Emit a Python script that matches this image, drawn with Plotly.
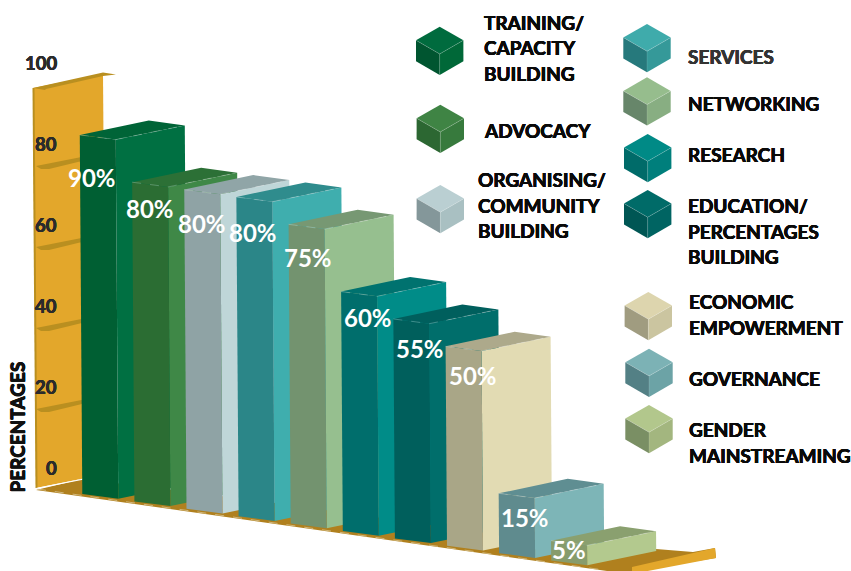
import plotly.graph_objects as go

# ---------- data ----------
categories = ["TRAINING/ CAPACITY BUILDING", "ADVOCACY", "ORGANISING/ COMMUNITY BUILDING",
              "SERVICES", "NETWORKING", "RESEARCH", "EDUCATION/ PERCENTAGES BUILDING",
              "ECONOMIC EMPOWERMENT", "GOVERNANCE", "GENDER MAINSTREAMING"]
values = [90, 80, 80, 80, 75, 60, 55, 50, 15, 5]
value_labels = ["90%", "80%", "80%", "80%", "75%", "60%", "55%", "50%", "15%", "5%"]
axis_ticks = [0, 20, 40, 60, 80, 100]
axis_title = "PERCENTAGES"

# ---------- styles ----------
left_colors = ["#005F33", "#2B6D33", "#8FA3A5", "#2B8688", "#73936F", "#006E6C", "#005F5C", "#A9A687", "#5F8B8E", "#879C6C"]
right_colors = ["#007042", "#3F8847", "#BFD6D8", "#3FAEAE", "#96BF8F", "#008C88", "#006E6B", "#E2DBB3", "#7DB5B7", "#B3C98E"]
top_colors = ["#006437", "#2C7036", "#90A5A7", "#2F8C8D", "#779873", "#00726F", "#005F5D", "#ADA98B", "#5F8E92", "#8AA06F"]
cube_top = ["#006B3E", "#3F8444", "#BACFD2", "#3FABAB", "#96BD8D", "#008A86", "#006B68", "#DDD5AE", "#7CB2B5", "#B2C78C"]
cube_left = ["#005530", "#2C6732", "#84979A", "#26797C", "#67866A", "#006B69", "#005654", "#A09C80", "#538085", "#7A8F64"]
cube_right = ["#006838", "#377A3D", "#A9C0C2", "#359999", "#88AE82", "#007F7C", "#006462", "#CBC5A0", "#6CA3A6", "#A3B67F"]
GOLD, GOLD_DARK, GOLD_EDGE = "#E3A72B", "#B0801E", "#B98F20"
FONT = "Lato"
HEAVY = "0.35px 0 0 {c}, -0.35px 0 0 {c}, 0 0.3px 0 {c}, 0 -0.3px 0 {c}"

# ---------- layout geometry (pixels of the 851x571 page) ----------
W, H = 851, 571
X0, Y0, XSTEP, YSTEP, UNIT, TAPER = 82.3, 494.0, 52.1, 7.4, 3.99, 0.028
FACE_DX = [0, 36, 105, 69]
FACE_DY = [0, 4.7, -9.5, -14.5]
WALL_UNIT = 4.05
TEXT_PAD = 2.5
label_px = [(92, 177), (150, 208), (202, 223), (253, 232), (308, 257),
            (368, 317), (420, 348), (473, 375), (525, 517), (569, 549)]
cube_px = [(439.7, 26.7), (440.3, 104.7), (440.3, 185), (647, 24), (647, 77.3),
           (647.7, 134), (647.7, 190), (648.3, 292), (649, 348.7), (649, 405)]
legend_lines = [
    [("TRAINING/", 484, 22), ("CAPACITY", 484, 47), ("BUILDING", 484, 73)],
    [("ADVOCACY", 484, 130)],
    [("ORGANISING/", 478, 179), ("COMMUNITY", 478, 205), ("BUILDING", 478, 230)],
    [("SERVICES", 688, 56)],
    [("NETWORKING", 688, 103)],
    [("RESEARCH", 688, 154)],
    [("EDUCATION/", 688, 205), ("PERCENTAGES", 688, 231), ("BUILDING", 688, 256)],
    [("ECONOMIC", 689, 301), ("EMPOWERMENT", 689, 327)],
    [("GOVERNANCE", 689, 378)],
    [("GENDER", 689, 429), ("MAINSTREAMING", 689, 455)],
]


def dx(px):
    return (px - X0) / XSTEP


def dy(py):
    return (Y0 - py) / UNIT


fig = go.Figure()


def poly(points, color):
    fig.add_trace(go.Scatter(x=[dx(p[0]) for p in points], y=[dy(p[1]) for p in points],
                             mode="lines", fill="toself", fillcolor=color,
                             line=dict(width=0, color=color), hoverinfo="skip", showlegend=False))


def path(points, color, width=0.7, dash="solid"):
    fig.add_trace(go.Scatter(x=[dx(p[0]) for p in points], y=[dy(p[1]) for p in points],
                             mode="lines", line=dict(width=width, color=color, dash=dash),
                             hoverinfo="skip", showlegend=False))


def corner(i, v, k):
    """A corner of bar i at height v, in category/percent units, k: 0 left 1 mid 2 right 3 back."""
    x = i + (FACE_DX[k] - TAPER * v) / XSTEP
    y = v - (YSTEP * i + FACE_DY[k]) / UNIT
    return x, y


# floor
poly([(36, 490), (82, 479), (656, 549), (693, 552), (715, 548), (716, 558), (632, 571), (607, 571)], GOLD_DARK)
path([(37, 489), (600, 569.5)], "#D8C490", 0.8, "dash")
# wall
poly([(33, 88), (103, 74), (106, 474), (36, 488)], GOLD)
path([(33.5, 88), (36.5, 488)], GOLD_EDGE, 2)
path([(36, 488.5), (84, 479)], "#FFFFFF", 1.2)
# top ledge of wall
poly([(33, 88), (103, 72.5), (116, 74.5), (103, 76), (46, 89), (45, 90)], GOLD_EDGE)
for t in axis_ticks[1:-1]:
    y = 490 - WALL_UNIT * t
    poly([(36, y), (84, y - 9.5), (84, y - 5.5), (49, y + 3), (41, y + 3)], GOLD_EDGE)
# right strip of floor
poly([(632, 567), (715, 548), (716, 558), (632, 574)], GOLD)

# bars
for i, v in enumerate(values):
    for ks, col in (((1, 2), right_colors[i]), ((0, 1), left_colors[i])):
        a, b = ks
        pts = [corner(i, 0, a), corner(i, 0, b), corner(i, v, b), corner(i, v, a)]
        fig.add_trace(go.Scatter(x=[p[0] for p in pts], y=[p[1] for p in pts], mode="lines",
                                 fill="toself", fillcolor=col, line=dict(width=0, color=col),
                                 hoverinfo="skip", showlegend=False))
    pts = [corner(i, v, k) for k in (0, 1, 2, 3)]
    fig.add_trace(go.Scatter(x=[p[0] for p in pts], y=[p[1] for p in pts], mode="lines",
                             fill="toself", fillcolor=top_colors[i], line=dict(width=0, color=top_colors[i]),
                             hoverinfo="skip", showlegend=False))
    pts = [corner(i, v, k) for k in (0, 1, 2)]
    fig.add_trace(go.Scatter(x=[p[0] for p in pts], y=[p[1] for p in pts], mode="lines",
                             line=dict(width=0.7, color="rgba(255,255,255,0.35)", dash="dash"),
                             hoverinfo="skip", showlegend=False))

# legend cubes
HW, RH, SIDE = 23.7, 13.6, 21
for i, (cx, cy) in enumerate(cube_px):
    poly([(cx, cy), (cx + HW, cy + RH), (cx, cy + 2 * RH), (cx - HW, cy + RH)], cube_top[i])
    poly([(cx - HW, cy + RH), (cx, cy + 2 * RH), (cx, cy + 2 * RH + SIDE), (cx - HW, cy + RH + SIDE)], cube_left[i])
    poly([(cx + HW, cy + RH), (cx, cy + 2 * RH), (cx, cy + 2 * RH + SIDE), (cx + HW, cy + RH + SIDE)], cube_right[i])
    path([(cx - HW, cy + RH), (cx, cy + 2 * RH), (cx + HW, cy + RH)], "rgba(255,255,255,0.3)", 0.6)
    path([(cx, cy + 2 * RH), (cx, cy + 2 * RH + SIDE)], "rgba(255,255,255,0.2)", 0.6)

anns = []
for t in axis_ticks:
    anns.append(dict(x=dx(59), y=dy(468 - WALL_UNIT * t), text=str(t), xref="x", yref="y", showarrow=False,
                     xanchor="right", yanchor="middle",
                     font=dict(family=FONT, size=18.5, color="#2B2B2B", weight=700, shadow=HEAVY.format(c="#2B2B2B"))))
anns.append(dict(x=dx(17), y=dy(427.5), text=axis_title, xref="x", yref="y", showarrow=False, textangle=-90,
                 xanchor="center", yanchor="middle",
                 font=dict(family=FONT, size=19, color="#111111", weight=700, shadow=HEAVY.format(c="#111111"))))
for (px, py), t in zip(label_px, value_labels):
    anns.append(dict(x=dx(px), y=dy(py), text=t, xref="x", yref="y", showarrow=False,
                     xanchor="center", yanchor="middle", font=dict(family=FONT, size=24, color="#FFFFFF", weight=700)))
for idx, lines in enumerate(legend_lines):
    col = "#333333" if categories[idx] == "SERVICES" else "#0A0A0A"
    for text, px, py in lines:
        anns.append(dict(x=dx(px - TEXT_PAD), y=dy(py), text=text, xref="x", yref="y", showarrow=False,
                         xanchor="left", yanchor="middle",
                         font=dict(family=FONT, size=19, color=col, weight=700, shadow=HEAVY.format(c=col))))

fig.update_layout(
    width=W, height=H, autosize=False, margin=dict(l=0, r=0, t=0, b=0),
    paper_bgcolor="white", plot_bgcolor="white", showlegend=False, annotations=anns,
    xaxis=dict(range=[dx(0), dx(W)], visible=False, fixedrange=True),
    yaxis=dict(range=[dy(H), dy(0)], visible=False, fixedrange=True),
)
fig.write_html("out.html", config=dict(displayModeBar=False),
               post_script="document.body.style.margin='0';document.body.style.overflow='hidden';")
